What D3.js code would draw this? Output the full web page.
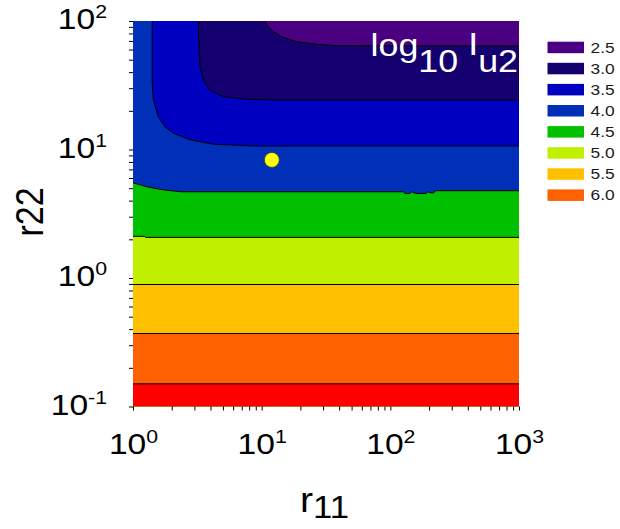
<!DOCTYPE html>
<head>
<meta charset="utf-8">
<script src="https://d3js.org/d3.v7.min.js"></script>
<style>
	body { margin: 0; background: #fff; }
	text { font-family: "Liberation Sans", Arial, sans-serif; }
</style>
</head>
<body>
<svg width="620" height="529"></svg>
<script>
	// contour levels shown in the legend and the band colours (top band first, red band at the bottom has no entry)
	var levels = ['2.5', '3.0', '3.5', '4.0', '4.5', '5.0', '5.5', '6.0'];
	var bandColors = ['#4a0080', '#14006e', '#0000c0', '#0030b8', '#00c000', '#c0f000', '#ffc000', '#ff6000', '#ff0000'];

	// contour boundaries, [r11, r22] pairs
	var b30 = [[10.6, 100], [11.26, 90.3], [12.31, 82.5], [14.73, 74.7], [18.72, 69.0], [26.8, 65.9], [38.3, 64.2], [1000, 63.9]];
	var b35 = [[3.22, 100], [3.26, 59.5], [3.32, 44.1], [3.52, 34.7], [3.97, 29.0], [5.03, 25.8], [7.65, 24.6], [11.6, 24.3], [1000, 24.3]];
	var b40 = [[1.41, 100], [1.41, 32.9], [1.44, 24.3], [1.57, 18.0], [1.77, 15.0], [2.06, 13.4], [2.77, 11.9], [4.21, 11.0], [8.6, 10.65], [1000, 10.65]];
	var b45 = [[1, 5.5], [1.13, 5.32], [1.28, 5.13], [1.53, 4.95], [1.83, 4.81], [2.39, 4.69], [126, 4.69], [130, 4.55], [142, 4.55],
		[147, 4.69], [158, 4.55], [189, 4.55], [196, 4.69], [207, 4.6], [218, 4.6], [222, 4.78], [1000, 4.78]];
	var b50 = [[1, 2.11], [1.23, 2.11], [1.25, 2.07], [1000, 2.07]];
	var b55 = [[1, 0.89], [1000, 0.89]];
	var b60 = [[1, 0.37], [1000, 0.37]];
	var b65 = [[1, 0.15], [1000, 0.15]];
	var boundaries = [b30, b35, b40, b45, b50, b55, b60, b65];

	var marker = [12, 8.3];

	var xDecades = ['0', '1', '2', '3'];
	var yDecades = ['-1', '0', '1', '2'];

	var sx = 1.12; // the picture is stretched a bit horizontally
	var svg = d3.select('svg');

	var x = d3.scaleLog().domain([1, 1000]).range([133, 519]);
	var y = d3.scaleLog().domain([0.1, 100]).range([406.5, 21]);

	svg.append('clipPath').attr('id', 'plotClip')
		.append('rect').attr('x', 133).attr('y', 21).attr('width', 386).attr('height', 385.5);

	var plot = svg.append('g').attr('clip-path', 'url(#plotClip)');

	plot.append('rect')
		.attr('x', x(1)).attr('y', y(100))
		.attr('width', x(1000) - x(1)).attr('height', y(0.1) - y(100))
		.attr('fill', bandColors[0]);

	var line = d3.line().x(function (d) { return x(d[0]); }).y(function (d) { return y(d[1]); });

	/* --------- BANDS --------- */
	boundaries.forEach(function (b, i) {
		var poly = b.concat([[1000, 0.1], [1, 0.1], [1, 100]]);
		plot.append('path')
			.attr('d', line(poly) + 'Z')
			.attr('fill', bandColors[i + 1]);
	});

	/* --------- CONTOUR LINES --------- */
	boundaries.forEach(function (b) {
		plot.append('path')
			.attr('d', line(b))
			.attr('fill', 'none')
			.attr('stroke', '#000')
			.attr('stroke-width', 1);
	});

	plot.append('circle')
		.attr('cx', x(marker[0])).attr('cy', y(marker[1]))
		.attr('r', 7.5)
		.attr('fill', '#ffff00')
		.attr('stroke', '#333')
		.attr('stroke-width', 0.8);

	/* --------- AXES --------- */
	var minor = [];
	[1, 10, 100].forEach(function (dec) {
		d3.range(1, 10).forEach(function (k) { minor.push(dec * k); });
	});
	minor.push(1000);
	var yMinor = minor.map(function (v) { return v / 10; }).filter(function (v) { return v <= 100; });

	var xAxis = svg.append('g')
		.attr('transform', 'translate(0,406.5)')
		.call(d3.axisBottom(x).tickValues(minor).tickSize(4).tickFormat(''));
	var yAxis = svg.append('g')
		.attr('transform', 'translate(133,0)')
		.call(d3.axisLeft(y).tickValues(yMinor).tickSize(4).tickFormat(''));
	[xAxis, yAxis].forEach(function (a) {
		a.select('.domain').remove();
		a.selectAll('line').attr('stroke', '#000');
	});

	// text helper, stretched horizontally like the original
	function label(px, py, anchor, rot) {
		return svg.append('g')
			.attr('transform', 'translate(' + px + ',' + py + ') scale(' + sx + ',1)' + (rot ? ' rotate(' + rot + ')' : ''))
			.append('text')
			.attr('text-anchor', anchor);
	}

	xDecades.forEach(function (e) {
		var t = label(x(Math.pow(10, +e)) + 0.5, 454.3, 'middle');
		t.append('tspan').attr('font-size', 30).text('10');
		t.append('tspan').attr('font-size', 19).attr('dy', -11).text(e);
	});

	yDecades.forEach(function (e) {
		var t = label(107, y(Math.pow(10, +e)) + 8.3, 'end');
		t.append('tspan').attr('font-size', 30).text('10');
		t.append('tspan').attr('font-size', 19).attr('dy', -11).text(e);
	});

	var xt = label(300, 511.7, 'start');
	xt.append('tspan').attr('font-size', 35).text('r');
	xt.append('tspan').attr('font-size', 31).attr('dy', 6.6).text('11');

	label(43, 212, 'middle', -90).attr('font-size', 34).text('r22');

	/* --------- ANNOTATION --------- */
	var ann = label(370.5, 56, 'start').attr('fill', '#fff').attr('font-size', 32);
	ann.append('tspan').text('log');
	ann.append('tspan').attr('dy', 15.7).text('10');
	ann.append('tspan').attr('dy', -16.7).text(' I');
	ann.append('tspan').attr('dy', 16.7).text('u2');

	/* --------- LEGEND --------- */
	var legend = svg.append('g');
	levels.forEach(function (lv, i) {
		var ly = 41.7 + i * 21.1;
		legend.append('rect')
			.attr('x', 547.5).attr('y', ly)
			.attr('width', 36.5).attr('height', 11.5)
			.attr('fill', bandColors[i]);
		label(590.5, ly + 11, 'start').attr('font-size', 15.5).attr('fill', '#1a1a1a').text(lv);
	});
</script>
</body>
